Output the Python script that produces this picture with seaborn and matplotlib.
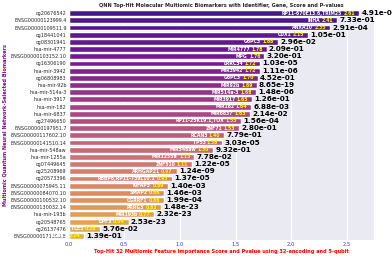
import matplotlib
matplotlib.use("Agg")
import matplotlib.pyplot as plt
import seaborn as sns
import pandas as pd

features = ['cg20676542', 'ENSG00000123999.4', 'ENSG00000109511.9', 'cg18441041',
            'cg08301941', 'hsa-mir-4777', 'ENSG00000103152.10', 'cg16306190',
            'hsa-mir-3942', 'cg06808983', 'hsa-mir-92b', 'hsa-mir-514a-3',
            'hsa-mir-3917', 'hsa-mir-182', 'hsa-mir-6837', 'cg27496650',
            'ENSG00000197951.7', 'ENSG00000117602.10', 'ENSG00000141510.14', 'hsa-mir-548aw',
            'hsa-mir-1255a', 'cg07449645', 'cg25208969', 'cg20573396',
            'ENSG00000075945.11', 'ENSG00000084070.10', 'ENSG00000100532.10', 'ENSG00000130032.14',
            'hsa-mir-193b', 'cg20548765', 'cg26137476', 'ENSG00000171303.8']
genes = ['RP11-670E13.6,TRIM25', 'INHA', 'ANXA10', 'CUX1',
         'G6PC3', 'MIR4777', 'MPG', 'LRRC34',
         'MIR3942', 'G6PC3', 'MIR92b', 'MIR514a-3',
         'MIR3917', 'MIR182', 'MIR6837', 'RP11-25K19.1,TOX',
         'ZNF71', 'RCAN3', 'TP53', 'MIR548aw',
         'MIR1255a', 'ZNF510', 'ARHGAP21', 'RBBP8,RP11-739L10.1',
         'KIFAP3', 'SMAP2', 'CGRRF1', 'PRRG3',
         'MIR193b', 'DPF3', 'TLE3', 'KCNK3']
scores = [2.61, 2.41, 2.35, 2.15, 1.88, 1.78, 1.76, 1.72,
          1.72, 1.70, 1.69, 1.68, 1.65, 1.64, 1.63, 1.55,
          1.53, 1.40, 1.38, 1.30, 1.13, 1.11, 0.97, 0.93,
          0.89, 0.86, 0.86, 0.83, 0.77, 0.54, 0.28, 0.14]
pvalues = ['4.91e-01', '7.33e-01', '2.91e-04', '1.05e-01', '2.96e-02', '2.09e-01', '3.20e-01', '1.03e-05',
           '1.11e-06', '4.52e-01', '8.65e-19', '1.48e-06', '1.26e-01', '6.88e-03', '2.14e-02', '1.56e-04',
           '2.80e-01', '7.79e-01', '3.03e-05', '9.32e-01', '7.78e-02', '1.22e-05', '1.24e-09', '1.37e-05',
           '1.40e-03', '1.46e-03', '1.99e-04', '1.48e-23', '2.32e-23', '2.53e-23', '5.76e-02', '1.39e-01']

df = pd.DataFrame({'feature': features, 'gene': genes, 'score': scores, 'pvalue': pvalues})

sns.set_style("darkgrid")
fig = plt.figure(figsize=(3.92, 2.59), dpi=100)
ax = fig.add_axes([0.175, 0.075, 0.778, 0.888])

# plasma colours, a bit washed out like the original
cols = sns.color_palette('plasma', 40)[3:35]
sns.barplot(x='score', y='feature', data=df, hue='feature', legend=False,
            palette=cols, saturation=0.72, ax=ax, width=0.82)

for i, row in df.iterrows():
    v = row['score']
    ax.text(v - 0.035, i, f"{v:.2f}", ha='right', va='center', color='yellow',
            fontsize=3.3, fontweight='bold')
    ax.text(v - 0.15, i, row['gene'], ha='right', va='center', color='white',
            fontsize=3.3, fontweight='bold')
    ax.text(v + 0.02, i, row['pvalue'], ha='left', va='center', color='black',
            fontsize=5.2, fontweight='bold')

ax.set_xlim(0, max(scores) * 1.05)
ax.set_title('QNN Top-Hit Molecular Multiomic Biomarkers with Identifier, Gene, Score and P-values',
             fontsize=3.6, fontweight='bold', pad=2)
ax.set_xlabel('Top-Hit 32 Multiomic Feature Importance Score and Pvalue using 32-encoding and 5-qubit',
              fontsize=3.6, fontweight='bold', color='red', labelpad=2)
ax.set_ylabel('Multiomic Quantum Neural Network-Selected Biomarkers',
              fontsize=3.6, fontweight='bold', color='darkmagenta', labelpad=2)
ax.tick_params(axis='x', labelsize=3.8, colors='#3333ff', pad=1.5, length=0)
ax.tick_params(axis='y', labelsize=3.5, pad=1.5, length=0)
ax.set_xticks([0.0, 0.5, 1.0, 1.5, 2.0, 2.5])

fig.savefig('out.png', dpi=100)
